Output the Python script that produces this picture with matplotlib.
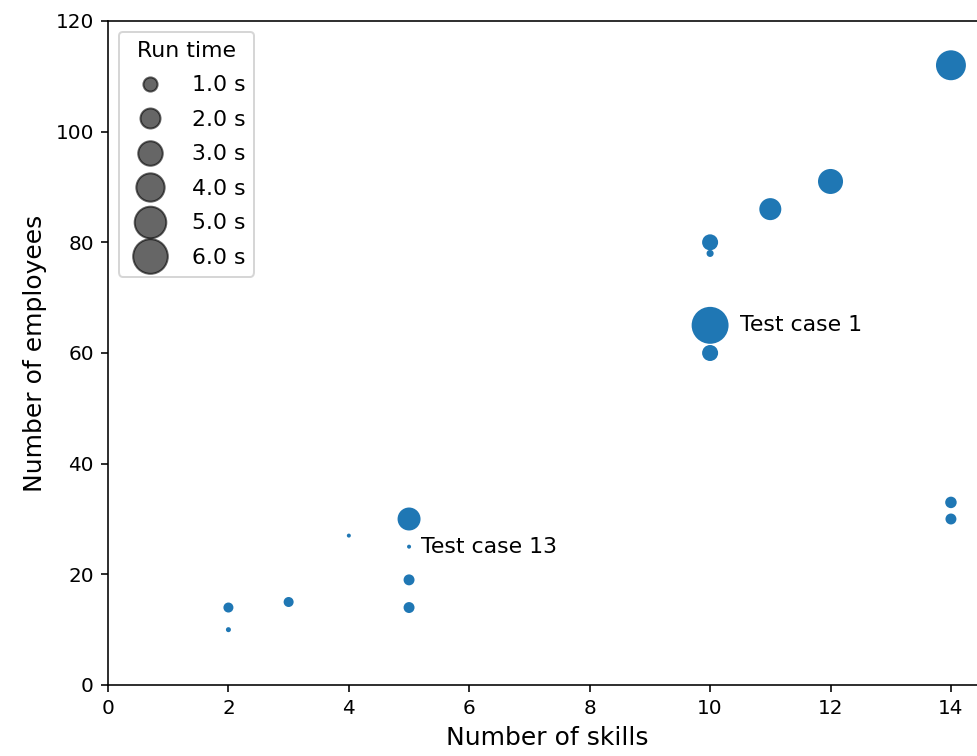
import numpy as np
import matplotlib
matplotlib.use("Agg")
import matplotlib.pyplot as plt
from matplotlib.lines import Line2D

# Data
skills = [14, 12, 11, 10, 10, 10, 10, 5, 5, 4, 5, 5, 3, 2, 2, 14, 14]
employees = [112, 91, 86, 80, 78, 65, 60, 30, 25, 27, 19, 14, 15, 14, 10, 33, 30]
run_time = [3.9, 2.65, 2.0, 0.98, 0.13, 6.1, 0.98, 2.2, 0.02, 0.02, 0.4, 0.4, 0.32, 0.32, 0.045, 0.45, 0.4]
legend_times = [1.0, 2.0, 3.0, 4.0, 5.0, 6.0]
annot_labels = ["Test case 1", "Test case 13"]
annot_points = [(10, 65), (5, 25)]
x_ticks = [0, 2, 4, 6, 8, 10, 12, 14]
y_ticks = [0, 20, 40, 60, 80, 100, 120]

SCALE = 50.0  # marker area (pt^2) per second

fig = plt.figure(figsize=(977 / 144, 756 / 144), dpi=144)
ax = fig.add_axes([108 / 977, 1 - 685 / 756, 14.6 * 60.21 / 977, (685 - 21) / 756])

sizes = [SCALE * t for t in run_time]
ax.scatter(skills, employees, s=sizes, color="#1f77b4")

offsets = [0.5, 0.2]
for lab, (px, py), off in zip(annot_labels, annot_points, offsets):
    ax.text(px + off, py, lab, va="center", ha="left", fontsize=11)

ax.set_xlim(0, 14.6)
ax.set_ylim(0, 120)
ax.set_xticks(x_ticks)
ax.set_yticks(y_ticks)
ax.tick_params(labelsize=10)
ax.set_xlabel("Number of skills", fontsize=12.5)
ax.set_ylabel("Number of employees", fontsize=12.5)

handles = [Line2D([0], [0], ls="", marker="o", color="k", alpha=0.6,
                  ms=np.sqrt(SCALE * t), markeredgewidth=1.0) for t in legend_times]
labels = [f"{t:.1f} s" for t in legend_times]
ax.legend(handles, labels, title="Run time", loc="upper left", fontsize=11,
          title_fontsize=11, labelspacing=0.66, handletextpad=0.9)

fig.savefig("out.png", dpi=144)
